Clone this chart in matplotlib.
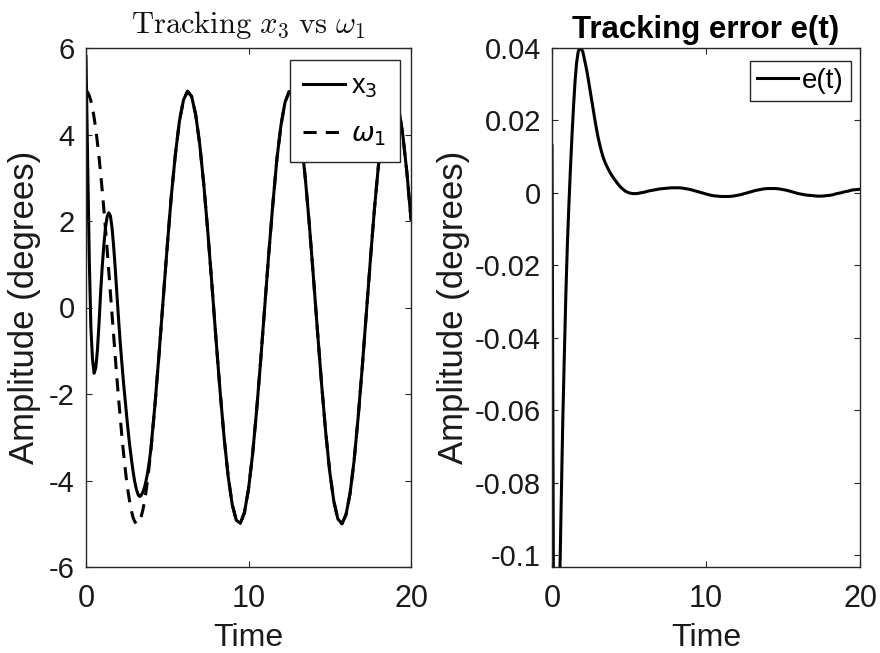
import numpy as np
import matplotlib
matplotlib.use("Agg")
import matplotlib.pyplot as plt
from matplotlib.ticker import FixedLocator, FixedFormatter

# ---------------- data ----------------
time = [0.0, 0.1, 0.2, 0.3, 0.4, 0.5, 0.6, 0.7, 0.8, 0.9,
        1.0, 1.1, 1.2, 1.3, 1.4, 1.5, 1.6, 1.7, 1.8, 1.9,
        2.0, 2.1, 2.2, 2.3, 2.4, 2.5, 2.6, 2.7, 2.8, 2.9,
        3.0, 3.1, 3.2, 3.3, 3.4, 3.5, 3.6, 3.7, 3.8, 3.9,
        4.0, 4.25, 4.5, 4.75, 5.0, 5.25, 5.5, 5.75, 6.0, 6.25,
        6.5, 6.75, 7.0, 7.25, 7.5, 7.75, 8.0, 8.25, 8.5, 8.75,
        9.0, 9.25, 9.5, 9.75, 10.0, 10.25, 10.5, 10.75, 11.0, 11.25,
        11.5, 11.75, 12.0, 12.25, 12.5, 12.75, 13.0, 13.25, 13.5, 13.75,
        14.0, 14.25, 14.5, 14.75, 15.0, 15.25, 15.5, 15.75, 16.0, 16.25,
        16.5, 16.75, 17.0, 17.25, 17.5, 17.75, 18.0, 18.25, 18.5, 18.75,
        19.0, 19.25, 19.5, 19.75, 20.0]

x3 = [5.80, 3.40, 1.15, -0.45, -1.20, -1.52, -1.40, -1.00, -0.38, 0.35,
      0.95, 1.45, 1.85, 2.10, 2.19, 2.12, 1.85, 1.42, 0.90, 0.32,
      -0.25, -0.78, -1.25, -1.70, -2.10, -2.50, -2.88, -3.22, -3.52, -3.80,
      -4.03, -4.20, -4.32, -4.37, -4.34, -4.27, -4.16, -4.00, -3.80, -3.55,
      -3.25, -2.22, -1.05, 0.19, 1.42, 2.58, 3.54, 4.31, 4.80, 5.00,
      4.88, 4.46, 3.77, 2.84, 1.73, 0.52, -0.73, -1.93, -3.01, -3.91,
      -4.56, -4.92, -4.99, -4.74, -4.20, -3.40, -2.38, -1.22, 0.02, 1.26,
      2.40, 3.44, 4.22, 4.75, 4.99, 4.92, 4.54, 3.88, 2.97, 1.89,
      0.68, -0.57, -1.78, -2.88, -3.80, -4.48, -4.89, -5.00, -4.79, -4.30,
      -3.54, -2.53, -1.38, -0.14, 1.10, 2.28, 3.30, 4.13, 4.70, 4.98,
      4.94, 4.60, 3.98, 3.11, 2.04]

omega1 = [5.00, 4.98, 4.90, 4.78, 4.61, 4.39, 4.13, 3.82, 3.48, 3.11,
          2.70, 2.27, 1.81, 1.34, 0.85, 0.35, -0.15, -0.64, -1.14, -1.62,
          -2.08, -2.52, -2.94, -3.33, -3.69, -4.01, -4.28, -4.52, -4.71, -4.86,
          -4.95, -5.00, -4.99, -4.94, -4.83, -4.68, -4.48, -4.24, -3.95, -3.63,
          -3.27, -2.23, -1.05, 0.19, 1.42, 2.58, 3.54, 4.31, 4.80, 5.00,
          4.88, 4.46, 3.77, 2.84, 1.73, 0.52, -0.73, -1.93, -3.01, -3.91,
          -4.56, -4.92, -4.99, -4.74, -4.20, -3.40, -2.38, -1.22, 0.02, 1.26,
          2.40, 3.44, 4.22, 4.75, 4.99, 4.92, 4.54, 3.88, 2.97, 1.89,
          0.68, -0.57, -1.78, -2.88, -3.80, -4.48, -4.89, -5.00, -4.79, -4.30,
          -3.54, -2.53, -1.38, -0.14, 1.10, 2.28, 3.30, 4.13, 4.70, 4.98,
          4.94, 4.60, 3.98, 3.11, 2.04]

err = [0.0130, -0.1200, -0.1500, -0.1600, -0.1400, -0.1080, -0.0850, -0.0630, -0.0450, -0.0280,
       -0.0140, -0.0030, 0.0070, 0.0160, 0.0240, 0.0310, 0.0360, 0.0390, 0.0400, 0.0398,
       0.0390, 0.0370, 0.0350, 0.0328, 0.0302, 0.0276, 0.0250, 0.0224, 0.0198, 0.0174,
       0.0152, 0.0133, 0.0116, 0.0101, 0.0089, 0.0079, 0.0070, 0.0062, 0.0054, 0.0047,
       0.0041, 0.0026, 0.0014, 0.0005, 0.0000, -0.0002, -0.0002, 0.0000, 0.0002, 0.0005,
       0.0007, 0.0009, 0.0011, 0.0012, 0.0013, 0.0014, 0.0014, 0.0014, 0.0013, 0.0011,
       0.0009, 0.0006, 0.0003, 0.0000, -0.0003, -0.0006, -0.0008, -0.0009, -0.0010, -0.0010,
       -0.0010, -0.0009, -0.0007, -0.0005, -0.0002, 0.0001, 0.0004, 0.0007, 0.0009, 0.0011,
       0.0012, 0.0012, 0.0012, 0.0011, 0.0009, 0.0007, 0.0004, 0.0001, -0.0002, -0.0004,
       -0.0006, -0.0007, -0.0008, -0.0009, -0.0009, -0.0008, -0.0007, -0.0005, -0.0002, 0.0000,
       0.0003, 0.0005, 0.0008, 0.0009, 0.0010]

x_ticks = [0, 10, 20]
left_yticks = [-6, -4, -2, 0, 2, 4, 6]
right_yticks = [-0.1, -0.08, -0.06, -0.04, -0.02, 0, 0.02, 0.04]
right_ylabels = ["-0.1", "-0.08", "-0.06", "-0.04", "-0.02", "0", "0.02", "0.04"]

# ---------------- styling ----------------
plt.rcParams['font.family'] = ['Liberation Sans', 'DejaVu Sans']
plt.rcParams['axes.unicode_minus'] = False
AX_COL = '#262626'
TXT_COL = '#1a1a1a'

fig = plt.figure(figsize=(8.8, 6.53), dpi=100)
ax1 = fig.add_axes([86/880, 1-567/653, 325/880, 519/653])
ax2 = fig.add_axes([552/880, 1-567/653, 308/880, 519/653])

def style(ax):
    for s in ax.spines.values():
        s.set_color(AX_COL)
        s.set_linewidth(1.0)
    ax.tick_params(direction='in', top=True, right=True, length=4, width=0.8,
                   colors=AX_COL, labelcolor=TXT_COL)
    ax.tick_params(axis='x', labelsize=22, pad=12)
    ax.tick_params(axis='y', labelsize=21, pad=8)

# Left panel
ax1.plot(time, x3, color='black', lw=2.2, label='x$_3$')
ax1.plot(time, omega1, color='black', lw=2.2, ls=(0, (4.3, 3.0)), label=r'$\omega_1$')
ax1.set_xlim(0, 20)
ax1.set_ylim(-6, 6)
ax1.set_xticks(x_ticks)
ax1.set_yticks(left_yticks)
style(ax1)
ax1.set_xlabel('Time', fontsize=23, color=TXT_COL)
ax1.xaxis.set_label_coords(0.5, -0.108)
ax1.set_ylabel('Amplitude (degrees)', fontsize=25, color=TXT_COL)
ax1.yaxis.set_label_coords(-0.138, 0.5)
t1 = ax1.set_title(r'$\mathrm{Tracking}\ x_3\ \mathrm{vs}\ \omega_1$', fontsize=22,
                   pad=11, color='#111111')
t1.set_math_fontfamily('cm')
leg1 = ax1.legend(loc='upper right', bbox_to_anchor=(0.966, 0.977), borderaxespad=0,
                  fontsize=19.5, frameon=True, fancybox=False, framealpha=1,
                  edgecolor=AX_COL, handlelength=1.55, handletextpad=0.22,
                  borderpad=0.5, labelspacing=0.8)
leg1.get_frame().set_linewidth(1.0)
for tx in leg1.get_texts():
    tx.set_math_fontfamily('dejavusans')

# Right panel
ax2.plot(time, err, color='black', lw=2.2, label='e(t)')
ax2.set_xlim(0, 20)
ax2.set_ylim(-0.1033, 0.04)
ax2.set_xticks(x_ticks)
ax2.yaxis.set_major_locator(FixedLocator(right_yticks))
ax2.yaxis.set_major_formatter(FixedFormatter(right_ylabels))
style(ax2)
ax2.set_xlabel('Time', fontsize=23, color=TXT_COL)
ax2.xaxis.set_label_coords(0.5, -0.108)
ax2.set_ylabel('Amplitude (degrees)', fontsize=25, color=TXT_COL)
ax2.yaxis.set_label_coords(-0.266, 0.5)
ax2.set_title('Tracking error e(t)', fontsize=22.5, fontweight='bold', pad=7, color='black')
leg2 = ax2.legend(loc='upper right', bbox_to_anchor=(0.971, 0.975), borderaxespad=0,
                  fontsize=20, frameon=True, fancybox=False, framealpha=1,
                  edgecolor=AX_COL, handlelength=1.5, handletextpad=0.15,
                  borderpad=0.25)
leg2.get_frame().set_linewidth(1.0)

fig.savefig('out.png', dpi=100)
